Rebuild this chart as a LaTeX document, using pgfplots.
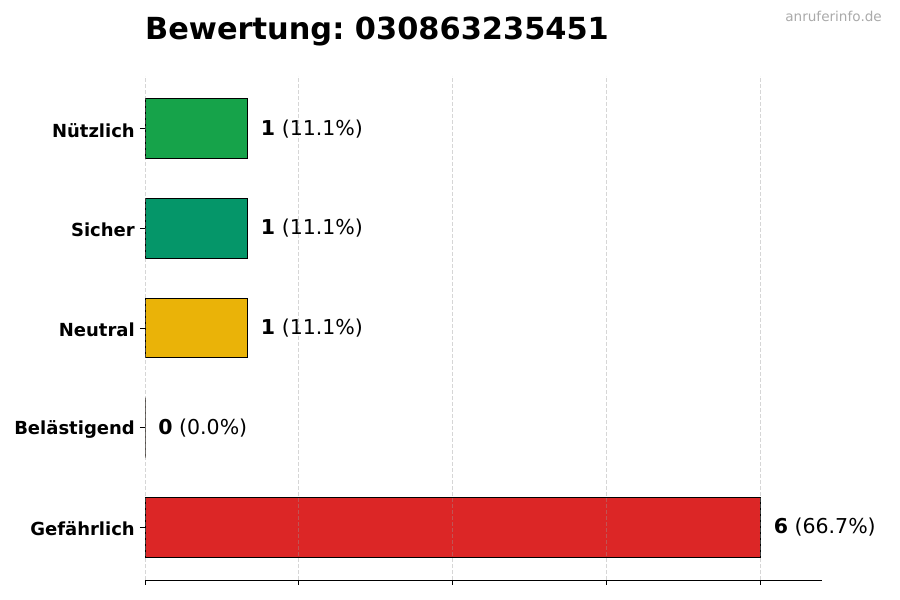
\documentclass[border=0pt]{standalone}
\usepackage{fontspec}
\setmainfont{DejaVu Sans}
\usepackage{pgfplots}
\pgfplotsset{compat=1.18}
\frenchspacing
\definecolor{cgreen}{HTML}{16A34A}
\definecolor{csicher}{HTML}{059669}
\definecolor{cneutral}{HTML}{EAB308}
\definecolor{cbel}{HTML}{F97316}
\definecolor{cred}{HTML}{DC2626}
\definecolor{cgrid}{HTML}{999999}
\definecolor{cwm}{HTML}{AAAAAA}
\begin{document}
\begin{tikzpicture}
\useasboundingbox (0,0) rectangle (900pt,600pt);
\begin{axis}[
  at={(145pt,20pt)}, anchor=south west,
  scale only axis, width=677pt, height=504pt,
  xmin=0, xmax=6.6, ymin=-0.53, ymax=4.53,
  xbar, bar width=59.8pt,
  axis x line*=bottom, axis y line*=left,
  y axis line style={draw=none},
  axis line style={line width=0.9pt},
  tick align=outside, major tick length=5pt,
  tick style={black, line width=0.9pt},
  xtick={0,1.5,3,4.5,6}, xticklabels={},
  ytick={0,1,2,3,4},
  yticklabels={Gefährlich,Belästigend,Neutral,Sicher,Nützlich},
  yticklabel style={font=\fontsize{18}{20}\selectfont\bfseries, inner sep=0pt, xshift=-5pt, yshift=-1.5pt},
  xmajorgrids, grid style={cgrid, opacity=0.4, line width=0.8pt, dash pattern=on 4pt off 2pt},
  axis on top,
  point meta=explicit symbolic,
  nodes near coords={\pgfplotspointmeta},
  every node near coord/.append style={font=\fontsize{20.5}{24}\selectfont, anchor=west, inner sep=0pt, xshift=13pt, black},
  clip=false,
]
\addplot[bar shift=0pt, fill=cred, draw=black, line width=0.8pt] coordinates {(6,0) [{\textbf{6} (66.7\%)}]};
\addplot[bar shift=0pt, fill=cbel, draw=black, line width=0.8pt] coordinates {(0,1) [{\textbf{0} (0.0\%)}]};
\addplot[bar shift=0pt, fill=cneutral, draw=black, line width=0.8pt] coordinates {(1,2) [{\textbf{1} (11.1\%)}]};
\addplot[bar shift=0pt, fill=csicher, draw=black, line width=0.8pt] coordinates {(1,3) [{\textbf{1} (11.1\%)}]};
\addplot[bar shift=0pt, fill=cgreen, draw=black, line width=0.8pt] coordinates {(1,4) [{\textbf{1} (11.1\%)}]};
\end{axis}
\node[anchor=base west, inner sep=0pt] at (145pt,560pt) {\fontsize{30.4}{36}\selectfont\bfseries Bewertung: 030863235451};
\node[anchor=base east, inner sep=0pt, text=cwm] at (882pt,578pt) {\fontsize{13.6}{16}\selectfont anruferinfo.de};
\end{tikzpicture}
\end{document}
